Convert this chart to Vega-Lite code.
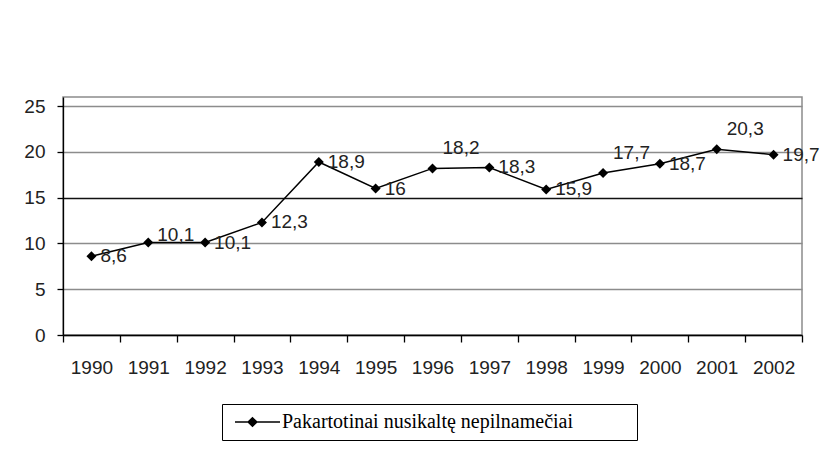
{
  "$schema": "https://vega.github.io/schema/vega-lite/v6.json",
  "width": 739,
  "height": 238,
  "autosize": {"type": "none"},
  "padding": {"left": 63, "top": 97, "right": 19, "bottom": 118},
  "background": "white",
  "config": {
    "locale": {"number": {"decimal": ",", "thousands": " ", "grouping": [3], "currency": ["", ""]}},
    "view": {"stroke": "#8c8c8c", "strokeWidth": 1.5},
    "font": "Liberation Sans"
  },
  "data": {
    "values": [
      {"year": "1990", "value": 8.6, "series": "Pakartotinai nusikaltę nepilnamečiai"},
      {"year": "1991", "value": 10.1, "series": "Pakartotinai nusikaltę nepilnamečiai"},
      {"year": "1992", "value": 10.1, "series": "Pakartotinai nusikaltę nepilnamečiai"},
      {"year": "1993", "value": 12.3, "series": "Pakartotinai nusikaltę nepilnamečiai"},
      {"year": "1994", "value": 18.9, "series": "Pakartotinai nusikaltę nepilnamečiai"},
      {"year": "1995", "value": 16, "series": "Pakartotinai nusikaltę nepilnamečiai"},
      {"year": "1996", "value": 18.2, "series": "Pakartotinai nusikaltę nepilnamečiai"},
      {"year": "1997", "value": 18.3, "series": "Pakartotinai nusikaltę nepilnamečiai"},
      {"year": "1998", "value": 15.9, "series": "Pakartotinai nusikaltę nepilnamečiai"},
      {"year": "1999", "value": 17.7, "series": "Pakartotinai nusikaltę nepilnamečiai"},
      {"year": "2000", "value": 18.7, "series": "Pakartotinai nusikaltę nepilnamečiai"},
      {"year": "2001", "value": 20.3, "series": "Pakartotinai nusikaltę nepilnamečiai"},
      {"year": "2002", "value": 19.7, "series": "Pakartotinai nusikaltę nepilnamečiai"}
    ]
  },
  "layer": [
    {
      "mark": {"type": "line", "strokeWidth": 1.5, "point": {"shape": "diamond", "filled": true, "size": 100, "color": "black", "opacity": 1}},
      "encoding": {
        "x": {
          "field": "year", "type": "ordinal",
          "scale": {"type": "band", "paddingInner": 0, "paddingOuter": 0},
          "axis": {"title": null, "labelAngle": 0, "labelFontSize": 19, "labelColor": "#222", "tickBand": "extent", "tickSize": 7, "tickColor": "black", "tickWidth": 1.3, "domainColor": "black", "domainWidth": 1.3, "labelPadding": 16, "grid": false}
        },
        "y": {
          "field": "value", "type": "quantitative",
          "scale": {"domain": [0, 25]},
          "axis": {"title": null, "values": [0, 5, 10, 15, 20, 25], "labelFontSize": 19, "labelColor": "#222", "domainColor": "black", "domainWidth": 1.3, "tickColor": "black", "tickWidth": 1.3, "tickSize": 6, "labelPadding": 12,
            "gridColor": {"condition": {"test": "datum.value == 15", "value": "#111"}, "value": "#8c8c8c"}, "gridWidth": 1.3}
        },
        "color": {
          "field": "series", "type": "nominal",
          "scale": {"range": ["black"]},
          "legend": {"title": null, "orient": "none", "legendX": 159, "legendY": 307, "strokeColor": "black", "fillColor": "white", "padding": 8,
            "labelFont": "Liberation Serif", "labelFontSize": 20, "labelColor": "black", "labelOffset": 32, "labelLimit": 600,
            "labelExpr": "datum.label + '\u00a0\u00a0\u00a0\u00a0\u00a0\u00a0\u00a0\u00a0\u00a0\u00a0\u00a0\u200b'",
            "symbolType": "M-1,0L8,0M2.5,-0.85L3.4,0L2.5,0.85L1.6,0Z", "symbolSize": 100, "symbolStrokeWidth": 1.3,
            "encode": {"symbols": {"update": {"fill": {"value": "black"}, "stroke": {"value": "black"}, "opacity": {"value": 1}}}}}
        }
      }
    },
    {
      "transform": [{"filter": "indexof(['1991','1996','1999','2001'], datum.year) < 0"}],
      "mark": {"type": "text", "align": "left", "baseline": "middle", "dx": 9, "fontSize": 19, "color": "#222"},
      "encoding": {
        "x": {"field": "year", "type": "ordinal"},
        "y": {"field": "value", "type": "quantitative"},
        "text": {"field": "value", "type": "quantitative", "format": ".3~g"}
      }
    },
    {
      "transform": [{"filter": "indexof(['1996','1999','2001'], datum.year) >= 0"}],
      "mark": {"type": "text", "align": "left", "baseline": "middle", "dx": 10, "dy": -20, "fontSize": 19, "color": "#222"},
      "encoding": {
        "x": {"field": "year", "type": "ordinal"},
        "y": {"field": "value", "type": "quantitative"},
        "text": {"field": "value", "type": "quantitative", "format": ".3~g"}
      }
    },
    {
      "transform": [{"filter": "datum.year == '1991'"}],
      "mark": {"type": "text", "align": "left", "baseline": "middle", "dx": 9, "dy": -8, "fontSize": 19, "color": "#222"},
      "encoding": {
        "x": {"field": "year", "type": "ordinal"},
        "y": {"field": "value", "type": "quantitative"},
        "text": {"field": "value", "type": "quantitative", "format": ".3~g"}
      }
    }
  ]
}
